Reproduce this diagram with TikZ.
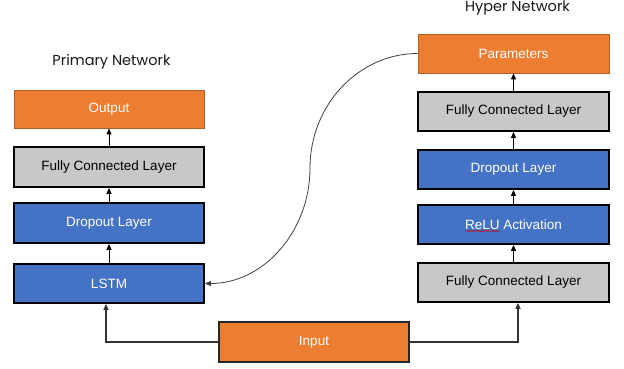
\documentclass[tikz,border=0pt]{standalone}
\usepackage{fontspec}
\setmainfont{Liberation Sans}
\newfontfamily\titlefont{Poppins}
\usetikzlibrary{arrows.meta,calc,decorations.pathmorphing}
\definecolor{orangebox}{HTML}{ED7D31}
\definecolor{orangeline}{HTML}{B05F24}
\definecolor{bluebox}{HTML}{4472C4}
\definecolor{graybox}{HTML}{C8C8C8}
\definecolor{darkline}{HTML}{333333}
\tikzset{
  boxbase/.style={rectangle, minimum height=39pt, inner sep=0pt, font=\fontsize{13.5}{16}\selectfont},
  orangebox/.style={boxbase, fill=orangebox, draw=orangeline, line width=0.8pt, text=white},
  bluebox/.style={boxbase, fill=bluebox, draw=black, line width=1.8pt, text=white},
  graybox/.style={boxbase, fill=graybox, draw=black, line width=1.8pt, text=black},
  inputbox/.style={boxbase, fill=orangebox, draw=black!85, line width=1.4pt, text=white},
  uparrow/.style={-{Triangle[length=6pt,width=5pt]}, line width=0.9pt, black},
  feedline/.style={-{Triangle[length=6pt,width=5pt]}, line width=1.8pt, darkline},
  curveline/.style={-{Triangle[length=6pt,width=5pt]}, line width=0.8pt, black!75},
  titletext/.style={font=\titlefont\fontsize{14.5}{17}\selectfont, inner sep=0pt, text=black!90}
}
\begin{document}
\begin{tikzpicture}[x=1pt,y=-1pt]
\useasboundingbox (0,0) rectangle (624,368);
% titles
\node[titletext] (ptitle) at (111.5,62) {Primary Network};
\node[titletext] (htitle) at (517.5,8) {Hyper Network};
% primary network
\node[orangebox, minimum width=190pt, minimum height=38pt] (out) at (109,109) {Output};
\node[graybox, minimum width=190pt, minimum height=40pt] (pfc) at (109,167) {Fully Connected Layer};
\node[bluebox, minimum width=190pt, minimum height=40pt] (pdrop) at (109,223) {Dropout Layer};
\node[bluebox, minimum width=190pt] (lstm) at (109,283.5) {LSTM};
% hyper network
\node[orangebox, minimum width=191pt] (param) at (513.5,53.5) {Parameters};
\node[graybox, minimum width=191pt] (hfc2) at (513.5,111.5) {Fully Connected Layer};
\node[bluebox, minimum width=191pt] (hdrop) at (513.5,169.5) {Dropout Layer};
\node[bluebox, minimum width=191pt] (relu) at (513.5,224.5) {ReLU Activation};
\node[graybox, minimum width=191pt] (hfc1) at (513.5,282.5) {Fully Connected Layer};
% input
\node[inputbox, minimum width=190pt, minimum height=40pt] (input) at (314,342) {Input};
% spell-check underline
\draw[red!85!black, line width=0.5pt, decorate, decoration={snake, segment length=2.5pt, amplitude=0.6pt}]
  ($(relu.center)+(-48,6.5)$) -- ($(relu.center)+(-14,6.5)$);
% arrows
\draw[uparrow] (pfc.north) -- (out.south);
\draw[uparrow] (pdrop.north) -- (pfc.south);
\draw[uparrow] (lstm.north) -- (pdrop.south);
\draw[uparrow] (hfc2.north) -- (param.south);
\draw[uparrow] (hdrop.north) -- (hfc2.south);
\draw[uparrow] (relu.north) -- (hdrop.south);
\draw[uparrow] (hfc1.north) -- (relu.south);
% input feeds
\draw[feedline] (input.west) -| ([xshift=-3pt]lstm.south);
\draw[feedline] (input.east) -| ([xshift=4.5pt]hfc1.south);
% hyper to primary curve
\coordinate (mid) at (310,168);
\draw[curveline] (param.west) .. controls ($(param.west)+(-59,0)$) and ($(mid)+(0,-63)$) .. (mid)
  .. controls ($(mid)+(0,63)$) and ($(lstm.east)+(59,0)$) .. (lstm.east);
\end{tikzpicture}
\end{document}
